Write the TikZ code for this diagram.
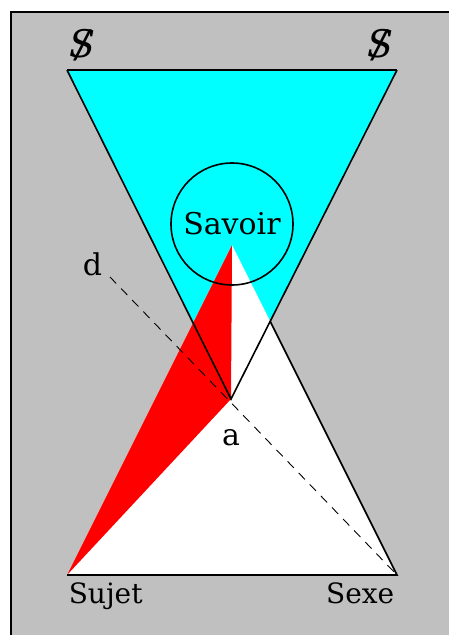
\documentclass[tikz,border=0pt]{standalone}
\usepackage{fontspec}
\setmainfont{DejaVu Serif}
\usetikzlibrary{positioning}
\definecolor{lacanGray}{RGB}{192,192,192}
\definecolor{lacanCyan}{RGB}{0,255,255}
\definecolor{lacanRed}{RGB}{255,0,0}
\newcommand{\barredS}{\ooalign{\itshape S\cr\hidewidth\itshape /\hidewidth\cr}}

\begin{document}
\begin{tikzpicture}[x=1pt,y=-1pt,line width=1.6pt,
    every node/.style={font=\fontsize{28}{34}\selectfont,inner sep=0pt},
    dashline/.style={line width=0.9pt,dash pattern=on 9pt off 7pt}]
  \useasboundingbox (0,0) rectangle (449,635);
  \fill[white] (0,0) rectangle (449,635);
  \fill[lacanGray] (11,12) rectangle (449,635);
  \draw[line width=2pt] (11,635)--(11,12)--(449,12);
  \coordinate (S1) at (67,70);
  \coordinate (S2) at (397,70);
  \coordinate (a) at (231,399);
  \coordinate (apex) at (232,245);
  \coordinate (Sujet) at (67,575);
  \coordinate (Sexe) at (397,575);
  \coordinate (d) at (110,277);
  \coordinate (X) at (intersection of apex--Sexe and S2--a);
  \fill[lacanCyan] (S1)--(S2)--(a)--cycle;
  \fill[white] (apex)--(Sexe)--(Sujet)--cycle;
  \fill[lacanRed] (apex)--(a)--(Sujet)--cycle;
  \draw (S1)--(S2);
  \draw (S1)--(a)--(S2);
  \draw (X)--(Sexe)--(Sujet);
  \draw[dashline] (d)--(Sexe);
  \node[circle,draw,minimum size=122pt,font=\fontsize{30}{36}\selectfont] (savoir) at (232,224) {Savoir};
  \node[below right=7pt and 1pt of Sujet] (sujetlbl) {Sujet};
  \node[below left=7pt and 2pt of Sexe] (sexelbl) {Sexe};
  \node[below=30pt of a,font=\fontsize{30}{36}\selectfont] (albl) {a};
  \node[above left=0pt and 7pt of d,font=\fontsize{30}{36}\selectfont] (dlbl) {d};
  \node[above right=8pt and 2pt of S1,font=\fontsize{38}{44}\selectfont] (s1lbl) {\barredS};
  \node[above left=8pt and 3pt of S2,font=\fontsize{38}{44}\selectfont] (s2lbl) {\barredS};
\end{tikzpicture}
\end{document}
